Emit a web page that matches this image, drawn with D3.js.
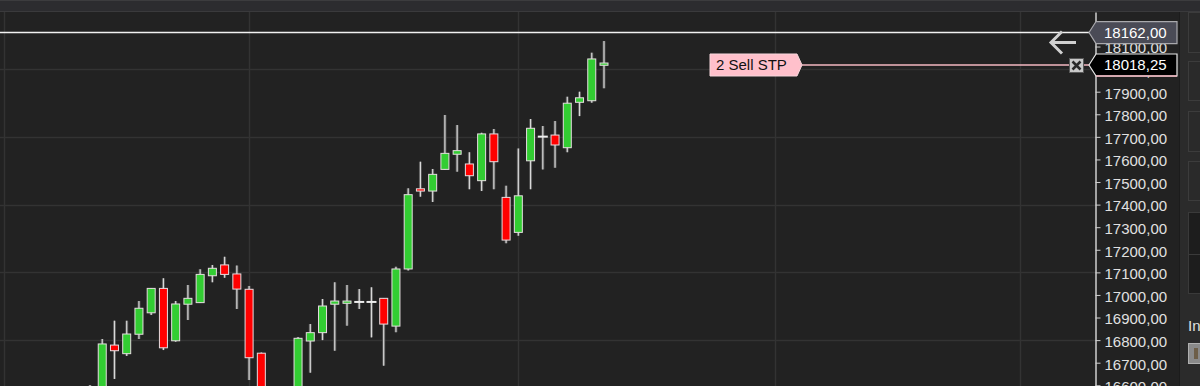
<!DOCTYPE html>
<html lang="en">
<head>
<meta charset="UTF-8">
<title>Candles</title>
<script src="https://cdn.jsdelivr.net/npm/d3@7/dist/d3.min.js"></script>
<style>
  body { margin: 0; background: #222222; overflow: hidden; }
  text { font-family: "Liberation Sans", Arial, sans-serif; }
</style>
</head>
<body>
<div id="chart"></div>
<script>
// bar data (one entry per bar, left to right)
var opens  = [16480, 16560, 16778, 16740, 16826, 16921, 17029, 16797, 16959, 16966, 17085, 17133, 17093, 17025, 16742, 16560, 16470,
              16570, 16796, 16833, 16959, 16963, 16969, 16969, 16985, 16862, 17115, 17470, 17460, 17556, 17623, 17580, 17506, 17713,
              17432, 17277, 17594, 17701, 17708, 17652, 17853, 17860, 18017];
var highs  = [16601, 16805, 16886, 16886, 16973, 17031, 17074, 16973, 17044, 17114, 17133, 17169, 17130, 17040, 16745, 16585, 16580,
              16814, 16871, 16982, 17056, 17044, 17026, 17034, 16985, 17125, 17472, 17590, 17558, 17797, 17752, 17632, 17718, 17735,
              17484, 17649, 17779, 17748, 17770, 17878, 17900, 18073, 18124];
var lows   = [16440, 16540, 16628, 16730, 16805, 16911, 16756, 16793, 16889, 16964, 17056, 17076, 16938, 16623, 16530, 16450, 16440,
              16550, 16656, 16800, 16753, 16864, 16938, 16812, 16687, 16835, 17108, 17435, 17412, 17554, 17546, 17468, 17460, 17468,
              17229, 17262, 17468, 17556, 17563, 17632, 17792, 17851, 17915];
var closes = [16560, 16783, 16753, 16827, 16941, 17029, 16766, 16960, 16985, 17091, 17118, 17091, 17026, 16722, 16560, 16500, 16560,
              16808, 16833, 16951, 16973, 16973, 16969, 16969, 16871, 17115, 17444, 17460, 17534, 17627, 17639, 17528, 17713, 17590,
              17243, 17439, 17738, 17701, 17664, 17849, 17873, 18045, 18027];

// price axis
var priceTicks = [18200, 18100, 18000, 17900, 17800, 17700, 17600, 17500, 17400, 17300, 17200, 17100, 17000, 16900, 16800, 16700, 16600];
var gridPrices = [18000, 17700, 17400, 17100, 16800];
// vertical grid lines, given as bar positions
var gridBars = [-7, 13, 35, 56, 76];

var lastPrice = 18162;
var orderPrice = 18018.25;
var orderText = "2 Sell STP";

var width = 1200, height = 386;
var plotTop = 12, axisX = 1095;

var svg = d3.select("#chart").append("svg").attr("width", width).attr("height", height);

var x = d3.scaleLinear().domain([0, 42]).range([90, 604]);
var y = d3.scaleLinear().domain([16596.8, 18252.9]).range([386, plotTop]);

var fmt = d3.formatLocale({decimal: ",", thousands: "", grouping: [3], currency: ["", ""]}).format(".2f");

var green = "#32cd32", red = "#ff0000";

// frame: top strip, plot area, right panel
svg.append("rect").attr("x", 0).attr("y", 0).attr("width", width).attr("height", height).attr("fill", "#222222");
svg.append("rect").attr("x", 0).attr("y", 0).attr("width", width).attr("height", plotTop).attr("fill", "#2c2c2f");
svg.append("line").attr("x1", 0).attr("x2", width).attr("y1", 0.5).attr("y2", 0.5).attr("stroke", "#3c3c3e");
svg.append("line").attr("x1", 0).attr("x2", width).attr("y1", plotTop - 0.5).attr("y2", plotTop - 0.5).attr("stroke", "#3a3a3c");

svg.append("defs").append("clipPath").attr("id", "plotclip")
    .append("rect").attr("x", 0).attr("y", plotTop).attr("width", axisX).attr("height", height - plotTop);

var plot = svg.append("g").attr("clip-path", "url(#plotclip)");

// grid
plot.selectAll("line.hgrid").data(gridPrices).enter().append("line")
    .attr("class", "hgrid")
    .attr("x1", 0).attr("x2", axisX)
    .attr("y1", function(d) { return Math.round(y(d)) + 0.5; })
    .attr("y2", function(d) { return Math.round(y(d)) + 0.5; })
    .attr("stroke", "#333333").attr("stroke-width", 1.5);

plot.selectAll("line.vgrid").data(gridBars).enter().append("line")
    .attr("class", "vgrid")
    .attr("x1", function(d) { return Math.round(x(d)) + 0.5; })
    .attr("x2", function(d) { return Math.round(x(d)) + 0.5; })
    .attr("y1", plotTop).attr("y2", height)
    .attr("stroke", "#333333").attr("stroke-width", 1.5);

// candles
var bars = d3.range(opens.length);
var candle = plot.selectAll("g.candle").data(bars).enter().append("g").attr("class", "candle");

candle.append("line")
    .attr("x1", function(i) { return x(i); })
    .attr("x2", function(i) { return x(i); })
    .attr("y1", function(i) { return y(highs[i]); })
    .attr("y2", function(i) { return y(lows[i]); })
    .attr("stroke", "#555").attr("stroke-width", 3);
candle.append("line")
    .attr("x1", function(i) { return x(i); })
    .attr("x2", function(i) { return x(i); })
    .attr("y1", function(i) { return y(highs[i]); })
    .attr("y2", function(i) { return y(lows[i]); })
    .attr("stroke", "#d8d8d8").attr("stroke-width", 1.2);

candle.filter(function(i) { return opens[i] != closes[i]; })
    .append("rect")
    .attr("x", function(i) { return x(i) - 4; })
    .attr("width", 8)
    .attr("y", function(i) { return y(Math.max(opens[i], closes[i])); })
    .attr("height", function(i) { return Math.max(2, Math.abs(y(opens[i]) - y(closes[i]))); })
    .attr("fill", function(i) { return closes[i] > opens[i] ? green : red; })
    .attr("stroke", "#e6dde0").attr("stroke-width", 1);

// doji bars
candle.filter(function(i) { return opens[i] == closes[i]; })
    .append("line")
    .attr("x1", function(i) { return x(i) - 5; })
    .attr("x2", function(i) { return x(i) + 5; })
    .attr("y1", function(i) { return y(opens[i]); })
    .attr("y2", function(i) { return y(opens[i]); })
    .attr("stroke", "#eeeeee").attr("stroke-width", 2);

// last price line
svg.append("line")
    .attr("x1", 0).attr("x2", axisX - 6)
    .attr("y1", y(lastPrice)).attr("y2", y(lastPrice))
    .attr("stroke", "#f2f2f2").attr("stroke-width", 1.5);

// order line
var oy = y(orderPrice);
svg.append("line")
    .attr("x1", 802).attr("x2", axisX - 6)
    .attr("y1", oy).attr("y2", oy)
    .attr("stroke", "#f4b8c2").attr("stroke-width", 1.5);

svg.append("path")
    .attr("d", "M710," + (oy - 11) + "H797L802," + oy + "L797," + (oy + 11) + "H710Z")
    .attr("fill", "#ffc0cb").attr("stroke", "#f7d7dc").attr("stroke-width", 1);
svg.append("text")
    .attr("x", 716).attr("y", oy).attr("dy", "0.36em")
    .attr("font-size", 15).attr("fill", "#111")
    .text(orderText);

// cancel box
svg.append("rect").attr("x", 1069.5).attr("y", oy - 6.5).attr("width", 14).attr("height", 14)
    .attr("fill", "#c9c9c9").attr("stroke", "#5a5a5a");
svg.append("path")
    .attr("d", "M1072.5," + (oy - 3.5) + "L1080.5," + (oy + 4.5) + "M1080.5," + (oy - 3.5) + "L1072.5," + (oy + 4.5))
    .attr("stroke", "#2a2a2a").attr("stroke-width", 2.5);

// back arrow
var ay = y(lastPrice) + 10;
svg.append("path")
    .attr("d", "M1076," + ay + "H1051M1062," + (ay - 11) + "L1051," + ay + "L1062," + (ay + 11))
    .attr("fill", "none").attr("stroke", "#d0d0d0").attr("stroke-width", 3);

// price axis
var yAxis = d3.axisRight(y).tickValues(priceTicks).tickSize(5).tickSizeOuter(0).tickPadding(4).tickFormat(fmt);
var ax = svg.append("g").attr("transform", "translate(" + (axisX + 0.5) + ",0)").call(yAxis);
ax.select(".domain").attr("stroke", "#cfcfcf").attr("stroke-width", 1.5);
ax.selectAll(".tick line").attr("stroke", "#cfcfcf");
ax.selectAll(".tick text").attr("fill", "#e0e0e0").attr("font-size", 15)
    .attr("font-family", "Liberation Sans, Arial, sans-serif").attr("dy", "0.42em");

// price tags on the axis
function priceTag(v, fill, stroke, ty) {
    var g = svg.append("g");
    g.append("path")
        .attr("d", "M1089," + ty + "L1096," + (ty - 11) + "H1177V" + (ty + 11) + "H1096Z")
        .attr("fill", fill).attr("stroke", stroke).attr("stroke-width", 1.2);
    g.append("text")
        .attr("x", 1104).attr("y", ty).attr("dy", "0.36em")
        .attr("font-size", 15).attr("fill", "#ffffff")
        .text(fmt(v));
    return g;
}
priceTag(lastPrice, "#4a4b56", "#a9a9ad", y(lastPrice));
priceTag(orderPrice, "#000000", "#e8e8e8", oy);
svg.append("line").attr("x1", 1096).attr("x2", 1177).attr("y1", oy + 11).attr("y2", oy + 11)
    .attr("stroke", "#f4b8c2").attr("stroke-width", 1.5);

// right side panel
svg.append("rect").attr("x", 1179).attr("y", plotTop).attr("width", 21).attr("height", height - plotTop).attr("fill", "#2b2b2b");
svg.append("line").attr("x1", 1179.5).attr("x2", 1179.5).attr("y1", plotTop).attr("y2", height).attr("stroke", "#1c1c1c");
var boxes = [[12, 52], [61, 100], [111, 151], [161, 200]];
svg.selectAll("rect.pbox").data(boxes).enter().append("rect")
    .attr("class", "pbox")
    .attr("x", 1188.5).attr("y", function(d) { return d[0] + 0.5; })
    .attr("width", 20).attr("height", function(d) { return d[1] - d[0]; })
    .attr("fill", "#2a2a2a").attr("stroke", "#3c3c3c");
svg.append("rect").attr("x", 1188.5).attr("y", 212.5).attr("width", 20).attr("height", 81)
    .attr("fill", "#1d1d1d").attr("stroke", "#3a3a3a");
svg.append("line").attr("x1", 1188).attr("x2", 1200).attr("y1", 254.5).attr("y2", 254.5).attr("stroke", "#3a3a3a");
svg.append("text").attr("x", 1188).attr("y", 331).attr("font-size", 15).attr("fill", "#e0e0e0").text("In");
svg.append("rect").attr("x", 1188.5).attr("y", 343.5).attr("width", 20).attr("height", 20)
    .attr("fill", "#8a8a8a").attr("stroke", "#b0b0b0");
svg.append("rect").attr("x", 1194).attr("y", 348).attr("width", 4).attr("height", 11).attr("fill", "#6d5e48");
</script>
</body>
</html>
